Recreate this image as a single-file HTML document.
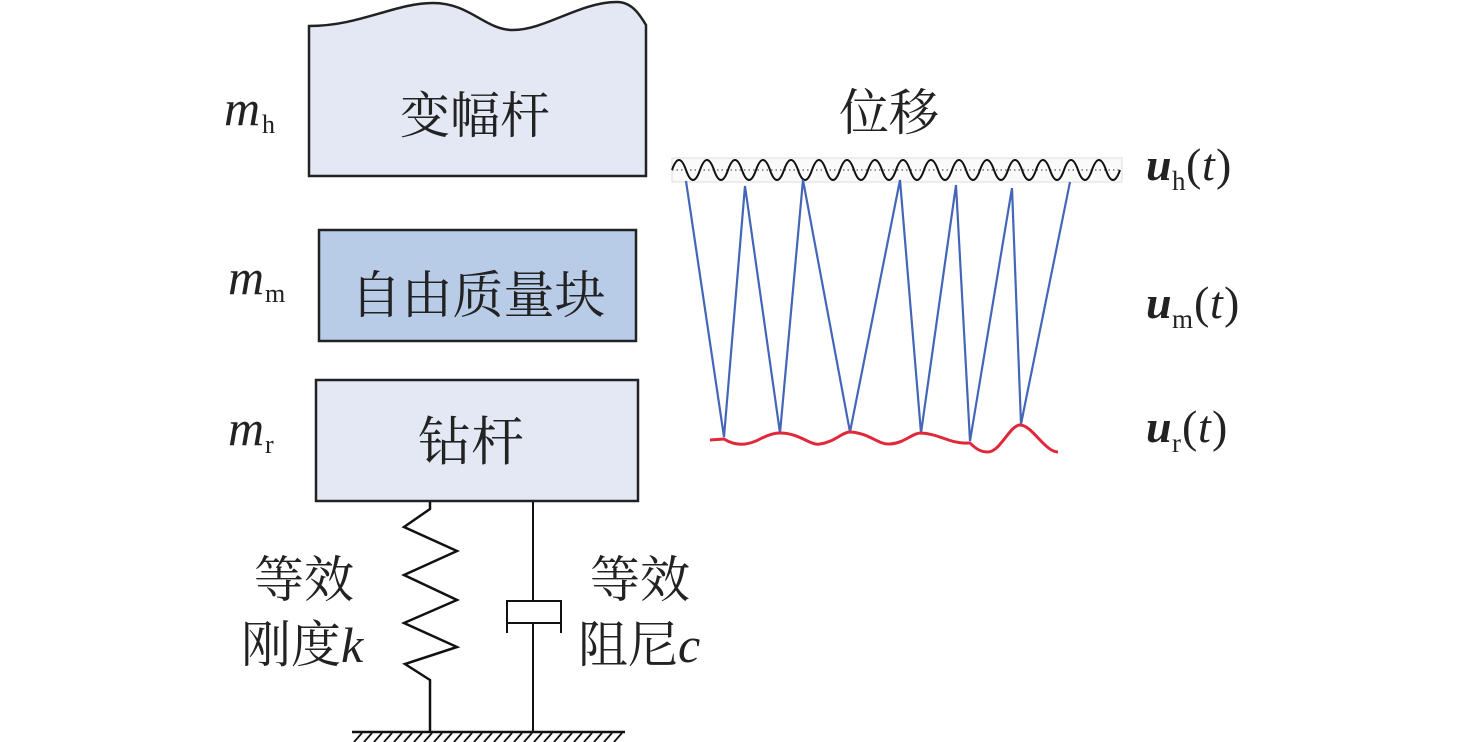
<!DOCTYPE html>
<html><head><meta charset="utf-8"><style>
html,body{margin:0;padding:0;background:#fff;}
svg{display:block}
.cn{font-family:"Liberation Serif","Noto Serif CJK SC",serif;fill:#222;}
.it{font-family:"Liberation Serif",serif;font-style:italic;fill:#222;}
.rm{font-family:"Liberation Serif",serif;fill:#222;}
</style></head><body>
<svg width="1476" height="742" viewBox="0 0 1476 742" xmlns="http://www.w3.org/2000/svg">
<!-- top box -->
<path d="M309,26 C360,26 395,3 433,3 C470,3 485,30 513,30 C545,30 580,2 617,2 C632,2 640,15 646,25 L646,176 L309,176 Z" fill="#e3e8f4" stroke="#222" stroke-width="2.5"/>
<text x="475" y="133" class="cn" font-size="50" text-anchor="middle">变幅杆</text>
<text x="224" y="125" class="it" font-size="50">m</text><text x="262" y="133" class="rm" font-size="26">h</text>
<!-- middle box -->
<rect x="319" y="230" width="317" height="111" fill="#b8cce8" stroke="#222" stroke-width="2.5"/>
<text x="478" y="313" class="cn" font-size="51" text-anchor="middle">自由质量块</text>
<text x="228" y="294" class="it" font-size="50">m</text><text x="265" y="302" class="rm" font-size="26">m</text>
<!-- bottom box -->
<rect x="316" y="380" width="322" height="121" fill="#e3e8f4" stroke="#222" stroke-width="2.5"/>
<text x="471" y="460" class="cn" font-size="53" text-anchor="middle">钻杆</text>
<text x="228" y="445" class="it" font-size="50">m</text><text x="265" y="453" class="rm" font-size="26">r</text>
<!-- spring -->
<polyline points="430,502 430,509 404,527 457,551 404,575 457,600 404,623 457,647 405,664 430,680 430,732" fill="none" stroke="#111" stroke-width="2.5"/>
<!-- damper -->
<line x1="533" y1="502" x2="533" y2="601" stroke="#111" stroke-width="2"/>
<polyline points="507,633 507,601 561,601 561,633" fill="none" stroke="#111" stroke-width="2"/>
<line x1="507" y1="623" x2="561" y2="623" stroke="#111" stroke-width="2"/>
<line x1="533" y1="623" x2="533" y2="732" stroke="#111" stroke-width="2"/>
<!-- ground -->
<line x1="352" y1="732" x2="625" y2="732" stroke="#111" stroke-width="2.5"/>
<g stroke="#111" stroke-width="1.8">
<line x1="362" y1="733" x2="354" y2="742"/><line x1="372" y1="733" x2="364" y2="742"/><line x1="382" y1="733" x2="374" y2="742"/><line x1="392" y1="733" x2="384" y2="742"/><line x1="402" y1="733" x2="394" y2="742"/><line x1="412" y1="733" x2="404" y2="742"/><line x1="422" y1="733" x2="414" y2="742"/><line x1="432" y1="733" x2="424" y2="742"/><line x1="442" y1="733" x2="434" y2="742"/><line x1="452" y1="733" x2="444" y2="742"/><line x1="462" y1="733" x2="454" y2="742"/><line x1="472" y1="733" x2="464" y2="742"/><line x1="482" y1="733" x2="474" y2="742"/><line x1="492" y1="733" x2="484" y2="742"/><line x1="502" y1="733" x2="494" y2="742"/><line x1="512" y1="733" x2="504" y2="742"/><line x1="522" y1="733" x2="514" y2="742"/><line x1="532" y1="733" x2="524" y2="742"/><line x1="542" y1="733" x2="534" y2="742"/><line x1="552" y1="733" x2="544" y2="742"/><line x1="562" y1="733" x2="554" y2="742"/><line x1="572" y1="733" x2="564" y2="742"/><line x1="582" y1="733" x2="574" y2="742"/><line x1="592" y1="733" x2="584" y2="742"/><line x1="602" y1="733" x2="594" y2="742"/><line x1="612" y1="733" x2="604" y2="742"/><line x1="622" y1="733" x2="614" y2="742"/>
</g>
<text x="304" y="597" class="cn" font-size="50" text-anchor="middle">等效</text>
<text x="241" y="662" class="cn" font-size="50">刚度</text><text x="341" y="662" class="it" font-size="50">k</text>
<text x="640" y="597" class="cn" font-size="50" text-anchor="middle">等效</text>
<text x="578" y="662" class="cn" font-size="50">阻尼</text><text x="678" y="662" class="it" font-size="50">c</text>
<!-- displacement -->
<text x="889" y="130" class="cn" font-size="50" text-anchor="middle">位移</text>
<rect x="672" y="158" width="450" height="24" fill="#fafafa" stroke="#ddd" stroke-width="1"/>
<line x1="672" y1="170" x2="1122" y2="170" stroke="#333" stroke-width="1" stroke-dasharray="1.5,3"/>
<path d="M672,170 q7,-20 14,0 t14,0 t14,0 t14,0 t14,0 t14,0 t14,0 t14,0 t14,0 t14,0 t14,0 t14,0 t14,0 t14,0 t14,0 t14,0 t14,0 t14,0 t14,0 t14,0 t14,0 t14,0 t14,0 t14,0 t14,0 t14,0 t14,0 t14,0 t14,0 t14,0 t14,0 t14,0" fill="none" stroke="#111" stroke-width="2"/>
<polyline points="686,181 724,437 745,186 780,433 803,180 850,432 900,180 921,433 956,185 970,441 1012,188 1021,424 1070,182" fill="none" stroke="#4466b8" stroke-width="2.2"/>
<path d="M710,440 L724,439 C735,446 748,446 762,438 C770,434 776,433 780,433 C800,433 810,446 820,444 C835,442 842,432 850,432 C870,433 878,445 890,444 C905,443 912,433 921,433 C940,434 950,444 968,443 L970,443 C975,448 980,452 988,452 C1000,452 1010,425 1020,425 C1032,425 1045,452 1058,452" fill="none" stroke="#e0283a" stroke-width="3"/>
<text x="1146" y="180" class="it" font-size="46" font-weight="bold">u</text><text x="1172" y="190" class="rm" font-size="27">h</text><text x="1186" y="180" class="rm" font-size="46">(</text><text x="1202" y="180" class="it" font-size="46">t</text><text x="1216" y="180" class="rm" font-size="46">)</text>
<text x="1146" y="318" class="it" font-size="46" font-weight="bold">u</text><text x="1172" y="328" class="rm" font-size="27">m</text><text x="1194" y="318" class="rm" font-size="46">(</text><text x="1210" y="318" class="it" font-size="46">t</text><text x="1224" y="318" class="rm" font-size="46">)</text>
<text x="1146" y="442" class="it" font-size="46" font-weight="bold">u</text><text x="1172" y="452" class="rm" font-size="27">r</text><text x="1182" y="442" class="rm" font-size="46">(</text><text x="1198" y="442" class="it" font-size="46">t</text><text x="1212" y="442" class="rm" font-size="46">)</text>
</svg>
</body></html>
